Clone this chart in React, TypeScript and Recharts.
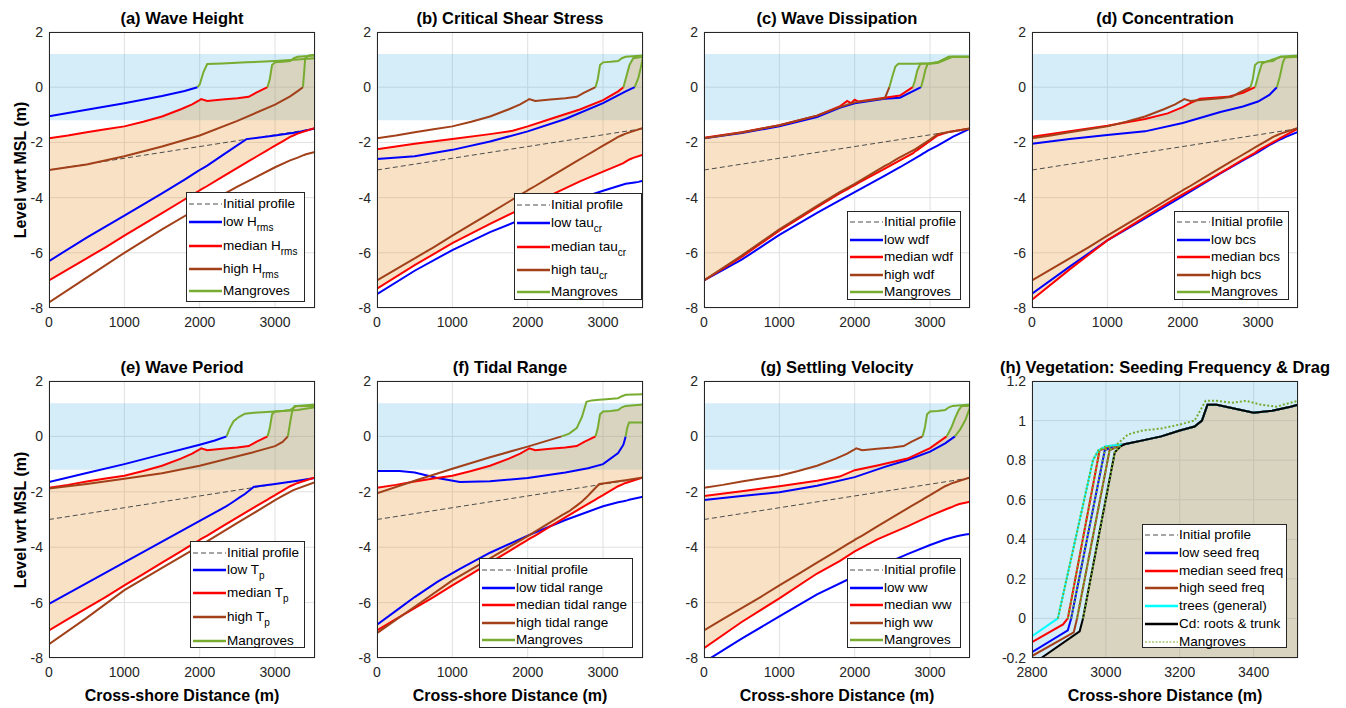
import React from "react";
import { ComposedChart, Line, Area, XAxis, YAxis, CartesianGrid } from "recharts";

type Pt = { x: number; y: number };

// axes
const X_DOMAIN: [number, number] = [0, 3530];
const X_TICKS = [0, 1000, 2000, 3000];
const Y_DOMAIN: [number, number] = [-8, 2];
const Y_TICKS = [-8, -6, -4, -2, 0, 2];
const H_X_DOMAIN: [number, number] = [2800, 3520];
const H_X_TICKS = [2800, 3000, 3200, 3400];
const H_Y_DOMAIN: [number, number] = [-0.2, 1.2];
const H_Y_TICKS = [-0.2, 0, 0.2, 0.4, 0.6, 0.8, 1, 1.2];

// intertidal band, m wrt MSL
const TIDE_RANGE = [-1.2, 1.2];

// initial profile
const INIT_X = [0, 3530];
const INIT_Y = [-3, -1.5];

// reference run (shows up as median or high in several panels)
const BASE_X = [0, 250, 500, 750, 1000, 1250, 1500, 1750, 1900, 1980, 2020, 2100, 2300, 2500, 2650, 2750, 2900, 2930, 2960, 3000, 3100, 3200, 3250, 3300, 3530];
const BASE_UP = [-1.85, -1.75, -1.63, -1.52, -1.42, -1.25, -1.06, -0.8, -0.62, -0.5, -0.43, -0.5, -0.45, -0.4, -0.35, -0.2, 0.0, 0.3, 0.8, 0.9, 0.92, 0.95, 1.05, 1.1, 1.15];
const BASE_LO = [-7.0, -6.6, -6.2, -5.8, -5.38, -4.97, -4.56, -4.15, -3.9, -3.77, -3.7, -3.58, -3.25, -2.92, -2.68, -2.52, -2.28, -2.23, -2.18, -2.12, -1.96, -1.8, -1.74, -1.68, -1.48];

// (a) wave height
const A_LOW_X = [0, 500, 1000, 1500, 1800, 1970, 2000, 2050, 2100, 2300, 2620, 3000, 3300, 3530];
const A_LOW_UP = [-1.05, -0.82, -0.58, -0.32, -0.14, 0.0, 0.1, 0.55, 0.84, 0.86, 0.9, 0.95, 1.0, 1.05];
const A_LOW_LO = [-6.3, -5.45, -4.65, -3.85, -3.35, -3.05, -3.0, -2.92, -2.84, -2.47, -1.88, -1.75, -1.63, -1.5];
const A_HIGH_X = [0, 500, 1000, 1500, 2000, 2500, 3000, 3200, 3300, 3370, 3385, 3400, 3450, 3530];
const A_HIGH_UP = [-3.0, -2.8, -2.5, -2.15, -1.75, -1.22, -0.63, -0.33, -0.14, 0.0, 0.5, 1.05, 1.15, 1.18];
const A_HIGH_LO = [-7.8, -6.9, -6.0, -5.15, -4.35, -3.6, -2.9, -2.65, -2.55, -2.47, -2.46, -2.44, -2.4, -2.35];

// (b) critical shear stress
const B_LOW_X = [0, 500, 1000, 1500, 2000, 2500, 3000, 3300, 3420, 3470, 3500, 3530];
const B_LOW_UP = [-2.6, -2.5, -2.27, -1.97, -1.6, -1.15, -0.58, -0.15, 0.0, 0.35, 0.7, 1.1];
const B_LOW_LO = [-7.5, -6.65, -5.9, -5.25, -4.7, -4.2, -3.75, -3.5, -3.45, -3.43, -3.41, -3.4];
const B_MED_X = [0, 500, 1000, 1500, 1800, 2000, 2300, 2700, 3000, 3200, 3270, 3300, 3350, 3400, 3530];
const B_MED_UP = [-2.25, -2.05, -1.88, -1.7, -1.58, -1.42, -1.15, -0.8, -0.47, -0.15, 0.0, 0.3, 0.8, 1.05, 1.1];
const B_MED_LO = [-7.3, -6.45, -5.65, -4.95, -4.55, -4.3, -3.92, -3.4, -3.06, -2.83, -2.75, -2.7, -2.62, -2.56, -2.45];

// (c) wave dissipation
const C_LOW_X = [0, 500, 1000, 1500, 1800, 2000, 2400, 2600, 2880, 2910, 2940, 2970, 3100, 3250, 3300, 3530];
const C_LOW_UP = [-1.85, -1.66, -1.42, -1.08, -0.75, -0.58, -0.42, -0.38, 0.0, 0.3, 0.65, 0.85, 0.88, 1.05, 1.1, 1.1];
const C_LOW_LO = [-7.0, -6.25, -5.35, -4.55, -4.1, -3.8, -3.2, -2.9, -2.45, -2.4, -2.35, -2.3, -2.12, -1.88, -1.8, -1.5];
const C_MED_X = [0, 500, 1000, 1500, 1800, 1900, 1950, 2000, 2050, 2400, 2600, 2770, 2800, 2830, 2870, 3000, 3100, 3250, 3530];
const C_MED_UP = [-1.83, -1.63, -1.38, -1.03, -0.7, -0.5, -0.58, -0.45, -0.52, -0.38, -0.3, 0.0, 0.25, 0.6, 0.85, 0.86, 0.9, 1.1, 1.1];
const C_MED_LO = [-7.0, -6.15, -5.2, -4.35, -3.85, -3.7, -3.62, -3.55, -3.47, -2.95, -2.65, -2.4, -2.33, -2.28, -2.2, -1.95, -1.75, -1.62, -1.5];
const C_HIGH_X = [0, 500, 1000, 1500, 1800, 2000, 2400, 2460, 2500, 2540, 2580, 2800, 3000, 3100, 3250, 3530];
const C_HIGH_UP = [-1.85, -1.64, -1.38, -1.03, -0.72, -0.55, -0.4, 0.0, 0.4, 0.75, 0.85, 0.85, 0.87, 0.9, 1.1, 1.1];
const C_HIGH_LO = [-7.0, -6.1, -5.15, -4.3, -3.8, -3.5, -2.85, -2.77, -2.7, -2.63, -2.57, -2.25, -1.9, -1.7, -1.62, -1.5];

// (d) concentration
const D_LOW_X = [0, 500, 1000, 1500, 2000, 2500, 2800, 3000, 3150, 3250, 3290, 3330, 3360, 3530];
const D_LOW_UP = [-2.05, -1.88, -1.73, -1.6, -1.3, -0.9, -0.7, -0.52, -0.28, 0.0, 0.4, 0.9, 1.08, 1.1];
const D_LOW_LO = [-7.48, -6.5, -5.55, -4.75, -3.95, -3.12, -2.65, -2.35, -2.1, -1.95, -1.9, -1.85, -1.81, -1.62];
const D_MED_X = [0, 500, 1000, 1500, 1800, 2000, 2100, 2230, 2600, 2800, 2960, 3000, 3050, 3100, 3250, 3300, 3530];
const D_MED_UP = [-1.8, -1.6, -1.4, -1.15, -0.95, -0.72, -0.58, -0.42, -0.35, -0.2, 0.0, 0.4, 0.85, 0.92, 1.05, 1.1, 1.1];
const D_MED_LO = [-7.7, -6.6, -5.55, -4.7, -4.2, -3.88, -3.73, -3.53, -2.95, -2.62, -2.38, -2.3, -2.22, -2.14, -1.92, -1.84, -1.5];

// (e) wave period
const E_LOW_X = [0, 500, 1000, 1500, 2000, 2200, 2356, 2400, 2450, 2520, 2600, 2720, 3000, 3300, 3530];
const E_LOW_UP = [-1.65, -1.32, -1.0, -0.65, -0.3, -0.15, 0.0, 0.3, 0.55, 0.7, 0.82, 0.85, 0.9, 0.95, 1.05];
const E_LOW_LO = [-6.05, -5.3, -4.55, -3.8, -3.05, -2.75, -2.52, -2.44, -2.35, -2.22, -2.08, -1.82, -1.72, -1.6, -1.5];
const E_HIGH_X = [0, 500, 1000, 1500, 2000, 2500, 2700, 3000, 3100, 3170, 3200, 3230, 3260, 3530];
const E_HIGH_UP = [-1.88, -1.72, -1.53, -1.33, -1.06, -0.72, -0.58, -0.35, -0.2, 0.0, 0.5, 0.95, 1.1, 1.1];
const E_HIGH_LO = [-7.5, -6.55, -5.55, -4.75, -3.95, -3.12, -2.8, -2.3, -2.15, -2.05, -2.0, -1.96, -1.92, -1.65];

// (f) tidal range
const F_LOW_X = [0, 300, 500, 800, 1100, 1500, 2000, 2500, 2800, 3000, 3200, 3270, 3300, 3320, 3345, 3530];
const F_LOW_UP = [-1.25, -1.25, -1.3, -1.5, -1.65, -1.62, -1.5, -1.3, -1.15, -1.0, -0.6, -0.3, 0.0, 0.3, 0.5, 0.5];
const F_LOW_LO = [-6.8, -6.2, -5.8, -5.25, -4.78, -4.2, -3.58, -3.02, -2.72, -2.52, -2.38, -2.34, -2.32, -2.31, -2.29, -2.18];
const F_HIGH_X = [0, 500, 1000, 1500, 2000, 2450, 2550, 2650, 2720, 2780, 2850, 2950, 3000, 3200, 3250, 3300, 3530];
const F_HIGH_UP = [-2.05, -1.6, -1.17, -0.75, -0.37, 0.0, 0.1, 0.3, 0.7, 1.25, 1.3, 1.32, 1.33, 1.38, 1.45, 1.5, 1.52];
const F_HIGH_LO = [-7.1, -6.15, -5.2, -4.4, -3.6, -2.85, -2.7, -2.5, -2.35, -2.2, -2.0, -1.72, -1.7, -1.62, -1.6, -1.58, -1.48];

// (g) settling velocity
const G_LOW_X = [0, 500, 1000, 1500, 2000, 2400, 2700, 3000, 3200, 3330, 3400, 3470, 3530];
const G_LOW_UP = [-2.3, -2.15, -2.02, -1.78, -1.47, -1.1, -0.85, -0.55, -0.25, 0.0, 0.25, 0.6, 1.05];
const G_LOW_LO = [-8.15, -7.3, -6.5, -5.7, -5.05, -4.6, -4.25, -3.92, -3.72, -3.62, -3.58, -3.54, -3.52];
const G_MED_X = [0, 500, 1000, 1500, 1800, 2000, 2300, 2700, 3000, 3220, 3280, 3330, 3380, 3420, 3530];
const G_MED_UP = [-2.15, -1.98, -1.8, -1.6, -1.45, -1.22, -1.05, -0.8, -0.42, 0.0, 0.3, 0.65, 0.95, 1.1, 1.1];
const G_MED_LO = [-7.65, -6.7, -5.85, -4.95, -4.5, -4.15, -3.72, -3.25, -2.87, -2.62, -2.56, -2.5, -2.45, -2.42, -2.36];

// (h) vegetation: toe of each profile, then the shared crest
const H_LOW_X = [2800, 2897, 2906, 2997, 3020];
const H_LOW_Y = [-0.17, -0.06, 0.0, 0.85, 0.87];
const H_MED_X = [2800, 2884, 2897, 2983, 3010];
const H_MED_Y = [-0.12, -0.03, 0.0, 0.85, 0.87];
const H_HIGH_X = [2800, 2913, 2922, 3010, 3035];
const H_HIGH_Y = [-0.19, -0.07, 0.0, 0.85, 0.87];
const H_TREES_X = [2800, 2870, 2965, 2980, 3000];
const H_TREES_Y = [-0.09, 0.0, 0.8, 0.85, 0.87];
const H_CD_X = [2800, 2825, 2929, 2938, 3024, 3040];
const H_CD_Y = [-0.24, -0.2, -0.065, 0.0, 0.84, 0.87];
const H_TOP_X = [3050, 3100, 3150, 3200, 3240, 3260, 3275, 3300, 3350, 3400, 3450, 3500, 3520];
const H_TOP_Y = [0.88, 0.9, 0.92, 0.95, 0.97, 1.0, 1.08, 1.08, 1.06, 1.04, 1.05, 1.07, 1.08];
const H_MANG_X = [3030, 3060, 3100, 3150, 3200, 3240, 3270, 3300, 3340, 3380, 3420, 3460, 3500, 3520];
const H_MANG_Y = [0.88, 0.93, 0.95, 0.96, 0.98, 1.0, 1.1, 1.1, 1.09, 1.1, 1.08, 1.07, 1.09, 1.1];

const FONT = '"Liberation Sans", Arial, Helvetica, sans-serif';
const C_BLUE = "#0000FF";
const C_RED = "#FF0000";
const C_BROWN = "#A2401A";
const C_GREEN = "#77AC30";
const C_INIT = "#4D4D4D";
const C_CYAN = "#00FFFF";
const C_BLACK = "#000000";

const COL_LEFT = [49, 377, 704, 1032];
const ROW_TOP = [32, 381];
const ROW_H = [276, 277];
const PLOT_W = 266;
const PAD_L = 45;
const PAD_T = 10;
const PAD_R = 10;
const AXIS_H = 30;

const TICK = { fontSize: 14, fill: "#262626", fontFamily: FONT };
const SUB: React.CSSProperties = { fontSize: 10, verticalAlign: "-5px", lineHeight: 0 };

const zip = (xs: number[], ys: number[]): Pt[] => xs.map((x, i) => ({ x, y: ys[i] }));

// mangroves only establish once the bed is at / above MSL
const splitAtMsl = (pts: Pt[]): [Pt[], Pt[]] => {
  const i = pts.findIndex((p) => p.y >= 0);
  if (i < 0) return [pts, []];
  return [pts.slice(0, i + 1), pts.slice(i)];
};

type Scen = { x: number[]; up: number[]; lo: number[] };
type Series = { pts: Pt[]; color: string; width: number; dash?: string };
type LegItem = { label: React.ReactNode; color: string; dash?: string };
type LegSpec = { box: number[]; pad: number; rows: number[]; items: LegItem[] };

const BASE: Scen = { x: BASE_X, up: BASE_UP, lo: BASE_LO };

function stdItems(low: React.ReactNode, med: React.ReactNode, high: React.ReactNode): LegItem[] {
  return [
    { label: "Initial profile", color: C_INIT, dash: "5 3" },
    { label: low, color: C_BLUE },
    { label: med, color: C_RED },
    { label: high, color: C_BROWN },
    { label: "Mangroves", color: C_GREEN },
  ];
}

const ROWS_SUB = [18, 24, 23, 22, 18];
const ROWS_FLAT = [17.6, 17.6, 17.6, 17.6, 17.6];

const PANELS = [
  {
    title: "(a) Wave Height", col: 0, row: 0,
    low: { x: A_LOW_X, up: A_LOW_UP, lo: A_LOW_LO }, med: BASE, high: { x: A_HIGH_X, up: A_HIGH_UP, lo: A_HIGH_LO },
    legend: { box: [186, 192, 119, 110], pad: 2, rows: ROWS_SUB, items: stdItems(<>low H<sub style={SUB}>rms</sub></>, <>median H<sub style={SUB}>rms</sub></>, <>high H<sub style={SUB}>rms</sub></>) },
  },
  {
    title: "(b) Critical Shear Stress", col: 1, row: 0,
    low: { x: B_LOW_X, up: B_LOW_UP, lo: B_LOW_LO }, med: { x: B_MED_X, up: B_MED_UP, lo: B_MED_LO }, high: BASE,
    legend: { box: [514, 193, 128, 107], pad: 2, rows: ROWS_SUB, items: stdItems(<>low tau<sub style={SUB}>cr</sub></>, <>median tau<sub style={SUB}>cr</sub></>, <>high tau<sub style={SUB}>cr</sub></>) },
  },
  {
    title: "(c) Wave Dissipation", col: 2, row: 0,
    low: { x: C_LOW_X, up: C_LOW_UP, lo: C_LOW_LO }, med: { x: C_MED_X, up: C_MED_UP, lo: C_MED_LO }, high: { x: C_HIGH_X, up: C_HIGH_UP, lo: C_HIGH_LO },
    legend: { box: [847, 211, 114, 89], pad: 1, rows: ROWS_FLAT, items: stdItems("low wdf", "median wdf", "high wdf") },
  },
  {
    title: "(d) Concentration", col: 3, row: 0,
    low: { x: D_LOW_X, up: D_LOW_UP, lo: D_LOW_LO }, med: { x: D_MED_X, up: D_MED_UP, lo: D_MED_LO }, high: BASE,
    legend: { box: [1174, 211, 115, 89], pad: 1, rows: ROWS_FLAT, items: stdItems("low bcs", "median bcs", "high bcs") },
  },
  {
    title: "(e) Wave Period", col: 0, row: 1,
    low: { x: E_LOW_X, up: E_LOW_UP, lo: E_LOW_LO }, med: BASE, high: { x: E_HIGH_X, up: E_HIGH_UP, lo: E_HIGH_LO },
    legend: { box: [190, 541, 115, 107], pad: 2, rows: [17, 23, 24, 24, 18], items: stdItems(<>low T<sub style={SUB}>p</sub></>, <>median T<sub style={SUB}>p</sub></>, <>high T<sub style={SUB}>p</sub></>) },
  },
  {
    title: "(f) Tidal Range", col: 1, row: 1,
    low: { x: F_LOW_X, up: F_LOW_UP, lo: F_LOW_LO }, med: BASE, high: { x: F_HIGH_X, up: F_HIGH_UP, lo: F_HIGH_LO },
    legend: { box: [479, 558, 154, 90], pad: 2, rows: ROWS_FLAT, items: stdItems("low tidal range", "median tidal range", "high tidal range") },
  },
  {
    title: "(g) Settling Velocity", col: 2, row: 1,
    low: { x: G_LOW_X, up: G_LOW_UP, lo: G_LOW_LO }, med: { x: G_MED_X, up: G_MED_UP, lo: G_MED_LO }, high: BASE,
    legend: { box: [847, 558, 114, 90], pad: 2, rows: ROWS_FLAT, items: stdItems("low ww", "median ww", "high ww") },
  },
];

function profileSeries(low: Scen, med: Scen, high: Scen): Series[] {
  const out: Series[] = [{ pts: zip(INIT_X, INIT_Y), color: C_INIT, width: 1, dash: "5 3" }];
  const greens: Series[] = [];
  ([[low, C_BLUE], [med, C_RED], [high, C_BROWN]] as [Scen, string][]).forEach(([s, c]) => {
    const [bare, veg] = splitAtMsl(zip(s.x, s.up));
    out.push({ pts: bare, color: c, width: 2 });
    out.push({ pts: zip(s.x, s.lo), color: c, width: 2 });
    if (veg.length) greens.push({ pts: veg, color: C_GREEN, width: 2 });
  });
  return out.concat(greens);
}

function LegendBox({ spec }: { spec: LegSpec }) {
  const [l, t, w, h] = spec.box;
  return (
    <div style={{ position: "absolute", left: l, top: t, width: w, height: h, boxSizing: "border-box", border: "1px solid #262626", background: "#fff", paddingTop: spec.pad, fontFamily: FONT, fontSize: 13.5, color: "#000" }}>
      {spec.items.map((it, i) => (
        <div key={i} style={{ display: "flex", alignItems: "flex-start", height: spec.rows[i], whiteSpace: "nowrap" }}>
          <svg width={36} height={18} style={{ flex: "none" }}>
            <line x1={2} x2={35} y1={9} y2={9} stroke={it.color} strokeWidth={it.dash ? 1.2 : 2.6} strokeDasharray={it.dash} />
          </svg>
          <span style={{ lineHeight: "18px" }}>{it.label}</span>
        </div>
      ))}
    </div>
  );
}

type PanelProps = {
  col: number; row: number; title: string;
  xDomain: [number, number]; xTicks: number[]; yDomain: [number, number]; yTicks: number[];
  fill: any[]; fillKey: string; fillBase?: "dataMin";
  series: Series[]; legend: LegSpec;
};

function Panel(p: PanelProps) {
  const left = COL_LEFT[p.col];
  const top = ROW_TOP[p.row];
  const h = ROW_H[p.row];
  const band = [{ x: p.xDomain[0], r: TIDE_RANGE }, { x: p.xDomain[1], r: TIDE_RANGE }];
  return (
    <>
      <div style={{ position: "absolute", left: left - PAD_L, top: top - PAD_T }}>
        <ComposedChart width={PAD_L + PLOT_W + PAD_R} height={PAD_T + h + AXIS_H} margin={{ top: PAD_T, right: PAD_R, bottom: 0, left: 0 }}>
          <CartesianGrid stroke="#e0e0e0" />
          <XAxis type="number" dataKey="x" domain={p.xDomain} ticks={p.xTicks} allowDataOverflow interval={0} height={AXIS_H} tickLine={false} axisLine={false} tickSize={5} tickMargin={4} tick={TICK} />
          <YAxis type="number" domain={p.yDomain} ticks={p.yTicks} allowDataOverflow interval={0} width={PAD_L} tickLine={false} axisLine={false} tickSize={4} tickMargin={2} tick={TICK} />
          <Area data={band} dataKey="r" type="linear" stroke="none" fill="#4DB4E6" fillOpacity={0.24} isAnimationActive={false} dot={false} activeDot={false} />
          <Area data={p.fill} dataKey={p.fillKey} type="linear" stroke="none" fill="#E6942F" fillOpacity={0.28} baseValue={p.fillBase} isAnimationActive={false} dot={false} activeDot={false} />
          {p.series.map((s, i) => (
            <Line key={i} data={s.pts} dataKey="y" type="linear" stroke={s.color} strokeWidth={s.width} strokeDasharray={s.dash} dot={false} activeDot={false} isAnimationActive={false} />
          ))}
        </ComposedChart>
      </div>
      <div style={{ position: "absolute", left, top, width: PLOT_W, height: h, boxSizing: "border-box", border: "1px solid #262626", pointerEvents: "none" }} />
      <div style={{ position: "absolute", left: left - 60, width: PLOT_W + 120, top: top - 22.5, height: 17, lineHeight: "17px", textAlign: "center", fontFamily: FONT, fontWeight: "bold", fontSize: 16.5, color: "#000", whiteSpace: "nowrap" }}>{p.title}</div>
      {p.col === 0 && (
        <div style={{ position: "absolute", left: 21 - 100, width: 200, top: top + h / 2 - 10, height: 20, lineHeight: "20px", textAlign: "center", transform: "rotate(-90deg)", fontFamily: FONT, fontWeight: "bold", fontSize: 16, color: "#000" }}>Level wrt MSL (m)</div>
      )}
      {p.row === 1 && (
        <div style={{ position: "absolute", left: left - 40, width: PLOT_W + 80, top: top + h + 28, lineHeight: "20px", textAlign: "center", fontFamily: FONT, fontWeight: "bold", fontSize: 16, color: "#000" }}>Cross-shore Distance (m)</div>
      )}
      <LegendBox spec={p.legend} />
    </>
  );
}

function vegetationPanel(): PanelProps {
  const toes: [number[], number[], string][] = [
    [H_LOW_X, H_LOW_Y, C_BLUE],
    [H_MED_X, H_MED_Y, C_RED],
    [H_HIGH_X, H_HIGH_Y, C_BROWN],
    [H_TREES_X, H_TREES_Y, C_CYAN],
    [H_CD_X, H_CD_Y, C_BLACK],
  ];
  const crest = zip(H_TOP_X, H_TOP_Y);
  const series: Series[] = [{ pts: zip(INIT_X, INIT_Y), color: C_INIT, width: 1, dash: "5 3" }];
  const dots: Series[] = [];
  toes.forEach(([xs, ys, c]) => {
    const prof = zip(xs, ys).concat(crest);
    series.push({ pts: prof, color: c, width: 2 });
    dots.push({ pts: splitAtMsl(zip(xs, ys))[1], color: C_GREEN, width: 2, dash: "2 2" });
  });
  dots.push({ pts: zip(H_MANG_X, H_MANG_Y), color: C_GREEN, width: 2, dash: "2 2" });
  return {
    col: 3, row: 1, title: "(h) Vegetation: Seeding Frequency & Drag",
    xDomain: H_X_DOMAIN, xTicks: H_X_TICKS, yDomain: H_Y_DOMAIN, yTicks: H_Y_TICKS,
    fill: zip(H_CD_X, H_CD_Y).concat(crest), fillKey: "y", fillBase: "dataMin",
    series: series.concat(dots),
    legend: {
      box: [1142, 524, 145, 124], pad: 1, rows: [17.8, 17.8, 17.8, 17.8, 17.8, 17.8, 17.8],
      items: [
        { label: "Initial profile", color: C_INIT, dash: "5 3" },
        { label: "low seed freq", color: C_BLUE },
        { label: "median seed freq", color: C_RED },
        { label: "high seed freq", color: C_BROWN },
        { label: "trees (general)", color: C_CYAN },
        { label: "Cd: roots & trunk", color: C_BLACK },
        { label: "Mangroves", color: C_GREEN, dash: "2 1.5" },
      ],
    },
  };
}

export default function App() {
  const panels: PanelProps[] = PANELS.map((p) => ({
    col: p.col, row: p.row, title: p.title,
    xDomain: X_DOMAIN, xTicks: X_TICKS, yDomain: Y_DOMAIN, yTicks: Y_TICKS,
    fill: p.med.x.map((x, i) => ({ x, r: [p.med.lo[i], p.med.up[i]] })), fillKey: "r",
    series: profileSeries(p.low, p.med, p.high),
    legend: p.legend as LegSpec,
  }));
  panels.push(vegetationPanel());
  return (
    <div style={{ position: "absolute", left: 0, top: 0, width: 1346, height: 708, background: "#fff", overflow: "hidden" }}>
      {panels.map((p, i) => (
        <Panel key={i} {...p} />
      ))}
    </div>
  );
}
